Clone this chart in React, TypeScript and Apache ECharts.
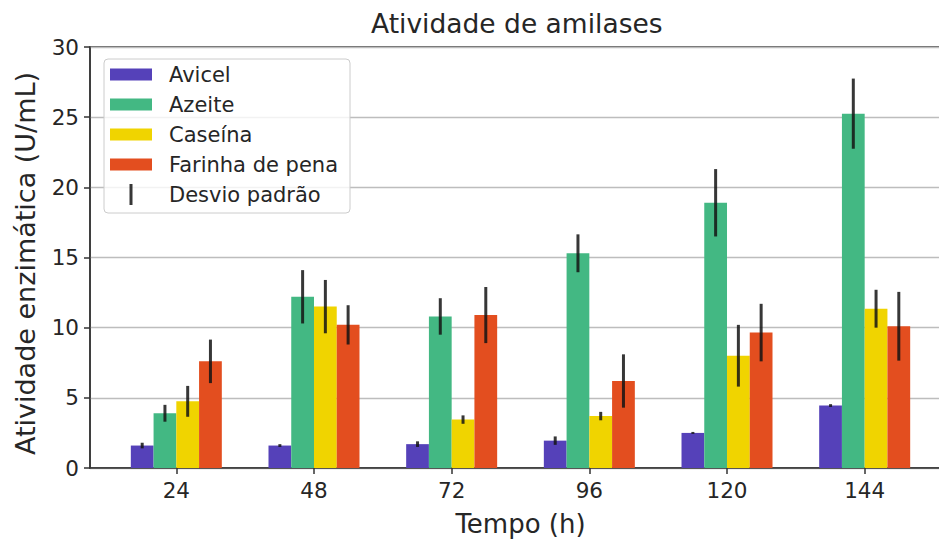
import React, { useEffect, useRef } from "react";
import * as echarts from "echarts";

// Sampling times (h) and mean amylase activity (U/mL) per substrate
const TIMES = ["24", "48", "72", "96", "120", "144"];
const SERIES_NAMES = ["Avicel", "Azeite", "Caseína", "Farinha de pena"];
const ERROR_NAME = "Desvio padrão";

const AVICEL = [1.6, 1.6, 1.7, 1.95, 2.5, 4.45];
const AZEITE = [3.9, 12.2, 10.8, 15.3, 18.9, 25.25];
const CASEINA = [4.75, 11.5, 3.45, 3.7, 8.0, 11.35];
const FARINHA = [7.6, 10.2, 10.9, 6.2, 9.65, 10.1];

// Standard deviations, same order as above
const AVICEL_SD = [0.2, 0.1, 0.2, 0.3, 0.07, 0.1];
const AZEITE_SD = [0.6, 1.9, 1.3, 1.35, 2.4, 2.5];
const CASEINA_SD = [1.1, 1.9, 0.3, 0.3, 2.2, 1.35];
const FARINHA_SD = [1.55, 1.4, 2.0, 1.9, 2.05, 2.45];

const Y_TICKS = [0, 5, 10, 15, 20, 25, 30];

const VALUES = [AVICEL, AZEITE, CASEINA, FARINHA];
const SDS = [AVICEL_SD, AZEITE_SD, CASEINA_SD, FARINHA_SD];
const COLORS = ["#5541b9", "#43b883", "#f0d400", "#e34e1f"];

const BAR_W = 22.75;
const ERR_COLOR = "rgba(20,20,20,0.85)";
const FONT = "DejaVu Sans";
const TEXT_COLOR = "#262626";
const AXIS_COLOR = "#333333";

const RECT_ICON = "path://M0,0M0,4.5H42V16.5H0ZM42,21";
const BAR_ICON = "path://M0,0M19.5,0H22.5V21H19.5ZM42,21";

export default function App() {
  const ref = useRef<HTMLDivElement>(null);

  useEffect(() => {
    if (!ref.current) return;
    const chart = echarts.init(ref.current, null, { renderer: "svg" });

    const barSeries = SERIES_NAMES.map((name, s) => ({
      name,
      type: "bar",
      data: VALUES[s].map((v, i) => [i, v]),
      barWidth: BAR_W,
      barGap: "0%",
      itemStyle: { color: COLORS[s] },
      z: 2,
    }));

    const errData: number[][] = [];
    SERIES_NAMES.forEach((_, s) => {
      VALUES[s].forEach((v, i) => errData.push([i, s, v, SDS[s][i]]));
    });

    const option: any = {
      animation: false,
      backgroundColor: "#ffffff",
      title: {
        text: "Atividade de amilases",
        left: 371,
        top: 10,
        padding: 0,
        textStyle: {
          fontFamily: FONT,
          fontSize: 26.5,
          fontWeight: "normal",
          color: TEXT_COLOR,
        },
      },
      legend: {
        orient: "vertical",
        left: 104,
        top: 59,
        padding: [5, 12, 8, 6],
        itemWidth: 42,
        itemHeight: 21,
        itemGap: 9,
        backgroundColor: "rgba(255,255,255,0.8)",
        borderColor: "#cccccc",
        borderWidth: 1,
        borderRadius: 4,
        textStyle: {
          fontFamily: FONT,
          fontSize: 21,
          lineHeight: 21,
          color: TEXT_COLOR,
          padding: [0, 0, 0, 12],
        },
        data: [
          ...SERIES_NAMES.map((name) => ({ name, icon: RECT_ICON })),
          { name: ERROR_NAME, icon: BAR_ICON },
        ],
      },
      grid: {
        left: 90,
        top: 47,
        right: -12,
        bottom: 74,
        outerBoundsMode: "none",
        show: true,
        borderColor: AXIS_COLOR,
        borderWidth: 1.5,
        backgroundColor: "transparent",
      },
      xAxis: {
        type: "value",
        min: -0.627,
        max: 5.627,
        name: "Tempo (h)",
        nameLocation: "middle",
        nameGap: 43,
        nameTextStyle: { fontFamily: FONT, fontSize: 26, color: TEXT_COLOR },
        axisLine: { show: true, onZero: false, lineStyle: { color: AXIS_COLOR, width: 1.5 } },
        axisTick: {
          show: true,
          length: 6,
          customValues: TIMES.map((_, i) => i),
          lineStyle: { color: AXIS_COLOR, width: 1.5 },
        },
        axisLabel: {
          customValues: TIMES.map((_, i) => i),
          formatter: (v: number) => TIMES[Math.round(v)] ?? "",
          fontFamily: FONT,
          fontSize: 21.5,
          color: TEXT_COLOR,
          margin: 11,
        },
        splitLine: { show: false },
      },
      yAxis: {
        type: "value",
        min: Y_TICKS[0],
        max: Y_TICKS[Y_TICKS.length - 1],
        interval: Y_TICKS[1] - Y_TICKS[0],
        name: "Atividade enzimática (U/mL)",
        nameLocation: "middle",
        nameGap: 51,
        nameTextStyle: {
          fontFamily: FONT,
          fontSize: 27,
          color: TEXT_COLOR,
          padding: [0, 12, 0, 0],
        },
        axisLine: { show: true, onZero: false, lineStyle: { color: AXIS_COLOR, width: 1.5 } },
        axisTick: { show: true, length: 6, lineStyle: { color: AXIS_COLOR, width: 1.5 } },
        axisLabel: {
          fontFamily: FONT,
          fontSize: 21.5,
          color: TEXT_COLOR,
          margin: 11,
        },
        splitLine: { show: true, lineStyle: { color: "#bdbdbd", width: 1.3 } },
      },
      series: [
        ...barSeries,
        {
          name: ERROR_NAME,
          type: "custom",
          data: errData,
          encode: { x: 0, y: 2 },
          itemStyle: { color: ERR_COLOR },
          z: 5,
          renderItem: (_params: any, api: any) => {
            const x = api.value(0);
            const s = api.value(1);
            const v = api.value(2);
            const e = api.value(3);
            const lo = api.coord([x, v - e]);
            const hi = api.coord([x, v + e]);
            const dx = (s - (SERIES_NAMES.length - 1) / 2) * BAR_W;
            return {
              type: "line",
              shape: { x1: lo[0] + dx, y1: lo[1], x2: hi[0] + dx, y2: hi[1] },
              style: { stroke: ERR_COLOR, lineWidth: 3 },
            };
          },
        },
      ],
    };

    chart.setOption(option);
    return () => chart.dispose();
  }, []);

  return (
    <div
      ref={ref}
      style={{ width: 939, height: 542, position: "absolute", left: 0, top: 0 }}
    />
  );
}
